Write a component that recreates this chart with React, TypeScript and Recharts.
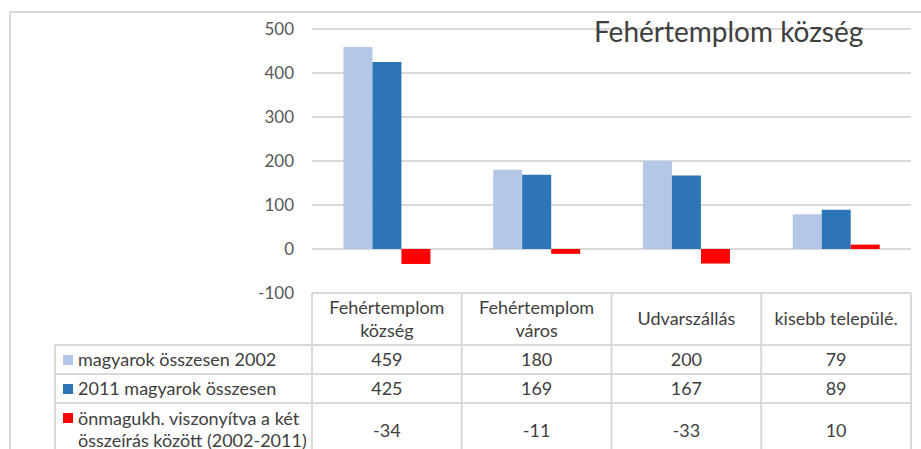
import { Bar, BarChart, CartesianGrid, XAxis, YAxis } from "recharts";

const categories = [
  "Fehértemplom község",
  "Fehértemplom város",
  "Udvarszállás",
  "kisebb települé.",
];
const magyarok2002 = [459, 180, 200, 79];
const magyarok2011 = [425, 169, 167, 89];
const valtozas = [-34, -11, -33, 10];

const seriesNames = [
  "magyarok összesen 2002",
  "2011 magyarok összesen",
  "önmagukh. viszonyítva a két összeírás között (2002-2011)",
];
const seriesColors = ["#b4c7e7", "#2e75b6", "#ff0000"];
const yTicks = [-100, 0, 100, 200, 300, 400, 500];
const title = "Fehértemplom község";

const data = categories.map((name, i) => ({
  name,
  a: magyarok2002[i],
  b: magyarok2011[i],
  c: valtozas[i],
}));
const columns = [magyarok2002, magyarok2011, valtozas];

const W = 921;
const H = 449;
const PLOT_LEFT = 312;
const PLOT_RIGHT = 10;
const CELL_W = (W - PLOT_LEFT - PLOT_RIGHT) / categories.length;
const FONT = "Lato, 'Open Sans', sans-serif";
const GRID = "#d9d9d9";
const TEXT = "#404040";

// row layout of the data table, relative to its top edge
const rows = [
  { top: 0, h: 52 },
  { top: 52, h: 29 },
  { top: 81, h: 29 },
  { top: 110, h: 60 },
];

function wrapHeader(label: string) {
  if (label.length <= 16) return [label];
  const k = label.indexOf(" ");
  return [label.slice(0, k), label.slice(k + 1)];
}

function legendLines(label: string) {
  const k = label.indexOf(" összeírás");
  return k > 0 ? [label.slice(0, k), label.slice(k + 1)] : [label];
}

function TableTick(props: any) {
  const { x, y, payload } = props;
  const i = categories.indexOf(payload.value);
  const left = x - CELL_W / 2;
  const right = x + CELL_W / 2;
  const head = wrapHeader(payload.value);
  const legLeft = PLOT_LEFT - 257;
  return (
    <g fontFamily={FONT} fontSize={18} fill={TEXT}>
      <line x1={right} x2={right} y1={y} y2={H} stroke={GRID} strokeWidth={2} />
      {i === 0 && (
        <g>
          <line x1={left} x2={left} y1={y} y2={H} stroke={GRID} strokeWidth={2} />
          <line x1={legLeft} x2={legLeft} y1={y + rows[1].top} y2={H} stroke={GRID} strokeWidth={2} />
          {rows.slice(1).map((r) => (
            <line key={r.top} x1={legLeft} x2={left} y1={y + r.top} y2={y + r.top} stroke={GRID} strokeWidth={2} />
          ))}
          {seriesNames.map((s, k) => {
            const r = rows[k + 1];
            const lines = legendLines(s);
            const cy = y + r.top + (lines.length > 1 ? 16 : r.h / 2);
            return (
              <g key={s}>
                <rect x={legLeft + 8} y={y + r.top + 10} width={10} height={10} fill={seriesColors[k]} />
                {lines.map((t, j) => (
                  <text key={j} x={legLeft + 23} y={cy + j * 22} dy="0.35em" textAnchor="start">
                    {t}
                  </text>
                ))}
              </g>
            );
          })}
        </g>
      )}
      {rows.slice(1).map((r) => (
        <line key={r.top} x1={left} x2={right} y1={y + r.top} y2={y + r.top} stroke={GRID} strokeWidth={2} />
      ))}
      {head.map((t, j) => (
        <text key={t} x={x} y={y + rows[0].h / 2 + (j - (head.length - 1) / 2) * 23} dy="0.35em" textAnchor="middle">
          {t}
        </text>
      ))}
      {columns.map((col, k) => {
        const r = rows[k + 1];
        return (
          <text key={k} x={x} y={y + r.top + (k === 2 ? 28 : r.h / 2)} dy="0.35em" textAnchor="middle">
            {col[i]}
          </text>
        );
      })}
    </g>
  );
}

export default function App() {
  return (
    <div style={{ position: "fixed", left: 0, top: 0, width: W, height: H, overflow: "hidden", background: "#fff" }}>
      <div
        style={{
          position: "absolute",
          left: 9,
          top: 11,
          width: 2000,
          height: 2000,
          border: `2px solid ${GRID}`,
        }}
      />
      <BarChart
        width={W}
        height={H}
        data={data}
        margin={{ top: 29, right: PLOT_RIGHT, bottom: 0, left: 0 }}
        barCategoryGap="21%"
        barGap={0}
        style={{ position: "absolute", left: 0, top: 0 }}
      >
        <CartesianGrid vertical={false} stroke={GRID} strokeWidth={2} />
        <YAxis
          width={PLOT_LEFT}
          domain={[-100, 500]}
          ticks={yTicks}
          axisLine={false}
          tickLine={false}
          tickSize={0}
          tickMargin={18}
          tick={{ fill: "#595959", fontSize: 17, fontFamily: FONT }}
        />
        <XAxis
          dataKey="name"
          height={H - 293}
          axisLine={false}
          tickLine={false}
          tickSize={0}
          tickMargin={0}
          interval={0}
          tick={<TableTick />}
        />
        <Bar dataKey="a" name={seriesNames[0]} fill={seriesColors[0]} isAnimationActive={false} />
        <Bar dataKey="b" name={seriesNames[1]} fill={seriesColors[1]} isAnimationActive={false} />
        <Bar dataKey="c" name={seriesNames[2]} fill={seriesColors[2]} isAnimationActive={false} />
      </BarChart>
      <div
        style={{
          position: "absolute",
          left: 594,
          top: 13,
          fontFamily: FONT,
          fontSize: 28,
          color: TEXT,
          whiteSpace: "nowrap",
          lineHeight: "36px",
        }}
      >
        {title}
      </div>
    </div>
  );
}
